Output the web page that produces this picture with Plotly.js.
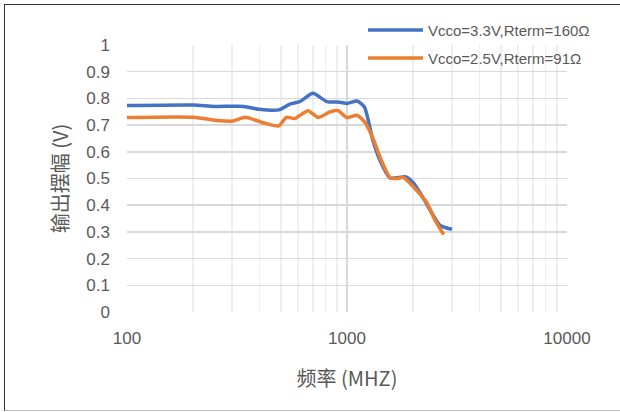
<!DOCTYPE html>
<html>
<head>
<meta charset="utf-8">
<script src="https://cdn.plot.ly/plotly-3.0.1.min.js"></script>
<style>
html,body{margin:0;padding:0;background:#fff;}
#wrap{position:relative;width:620px;height:412px;overflow:hidden;}
#chart{width:620px;height:412px;}
#frame{position:absolute;left:4px;top:4px;width:640px;height:405px;border-top:1.5px solid #333;border-left:1.5px solid #333;border-bottom:1.5px solid #bbb;pointer-events:none;}
</style>
</head>
<body>
<div id="wrap">
<div id="chart"></div>
<div id="frame"></div>
</div>
<script>
// Series names
var seriesNames = ["Vcco=3.3V,Rterm=160Ω", "Vcco=2.5V,Rterm=91Ω"];
var seriesColors = ["#4472C4", "#ED7D31"];

// Series 1: Vcco=3.3V, Rterm=160Ω
var freq1 = [100, 200, 250, 340, 400, 490, 550, 610, 700, 810, 930, 1000, 1110, 1200, 1310, 1410, 1570, 1850, 2000, 2220, 2460, 2650, 3000];
var amp1  = [0.773, 0.775, 0.770, 0.770, 0.759, 0.757, 0.779, 0.788, 0.819, 0.788, 0.786, 0.781, 0.790, 0.768, 0.644, 0.569, 0.502, 0.506, 0.484, 0.427, 0.363, 0.324, 0.310];

// Series 2: Vcco=2.5V, Rterm=91Ω
var freq2 = [100, 200, 265, 303, 345, 415, 490, 530, 580, 665, 740, 840, 910, 1000, 1110, 1200, 1310, 1410, 1570, 1700, 1800, 2000, 2310, 2510, 2750];
var amp2  = [0.728, 0.729, 0.716, 0.715, 0.729, 0.709, 0.697, 0.729, 0.725, 0.754, 0.729, 0.750, 0.754, 0.728, 0.737, 0.713, 0.652, 0.582, 0.503, 0.500, 0.504, 0.469, 0.408, 0.345, 0.290];

// Axis ticks
var xTickVals = [100, 1000, 10000];
var xTickText = ["100", "1000", "10000"];
var xMinorVals = [200, 300, 400, 500, 600, 700, 800, 900, 2000, 3000, 4000, 5000, 6000, 7000, 8000, 9000];
var yTickVals = [0, 0.1, 0.2, 0.3, 0.4, 0.5, 0.6, 0.7, 0.8, 0.9, 1];
var yTickText = ["0", "0.1", "0.2", "0.3", "0.4", "0.5", "0.6", "0.7", "0.8", "0.9", "1"];
var xTitle = "频率 (MHZ)";
var yTitle = "输出摆幅 (V)";

var font = "Liberation Sans, 'Noto Sans CJK SC', sans-serif";
var cjk = "'Noto Sans CJK SC', sans-serif";

var traces = [
  {x: freq1, y: amp1, mode: "lines", name: seriesNames[0],
   line: {color: seriesColors[0], width: 3.5, shape: "spline", smoothing: 0.6}},
  {x: freq2, y: amp2, mode: "lines", name: seriesNames[1],
   line: {color: seriesColors[1], width: 3.5, shape: "spline", smoothing: 0.6}}
];

// manual legend (paper coords relative to plot area)
var L = 127, R = 567, T = 45, B = 312;
function px(x){ return (x - L) / (R - L); }
function py(y){ return (B - y) / (B - T); }
var legRows = [30, 58];
var shapes = [], annotations = [];
for (var i = 0; i < 2; i++) {
  shapes.push({type: "line", xref: "paper", yref: "paper",
    x0: px(368), x1: px(423), y0: py(legRows[i]), y1: py(legRows[i]),
    line: {color: seriesColors[i], width: 3.5}});
  annotations.push({xref: "paper", yref: "paper", x: px(426), y: py(legRows[i]),
    xanchor: "left", yanchor: "middle", showarrow: false, text: seriesNames[i],
    font: {family: font, size: 15, color: "#595959"}});
}

var layout = {
  width: 620, height: 412,
  margin: {l: L, r: 620 - R, t: T, b: 412 - B, pad: 0},
  paper_bgcolor: "#ffffff", plot_bgcolor: "#ffffff",
  showlegend: false,
  font: {family: font, color: "#595959", size: 17},
  xaxis: {
    type: "log", range: [2, 4],
    tickmode: "array", tickvals: xTickVals, ticktext: xTickText,
    showgrid: true, gridcolor: "#d9d9d9", gridwidth: 2,
    minor: {tickmode: "array", tickvals: xMinorVals, showgrid: true, gridcolor: "#eeeeee", gridwidth: 1.5, ticks: ""},
    showline: false, zeroline: false, ticks: "",
    ticklabelstandoff: 14,
    tickfont: {family: font, size: 17, color: "#595959"},
    title: {text: xTitle, font: {family: cjk, size: 20, color: "#595959"}, standoff: 24}
  },
  yaxis: {
    range: [0, 1], tickmode: "array", tickvals: yTickVals, ticktext: yTickText,
    showgrid: true, gridcolor: "#d9d9d9", gridwidth: 1.5,
    showline: false, zeroline: false, ticks: "",
    ticklabelstandoff: 16,
    tickfont: {family: font, size: 17, color: "#595959"},
    title: {text: yTitle, font: {family: cjk, size: 20, color: "#595959"}, standoff: 12}
  },
  shapes: shapes,
  annotations: annotations
};

Plotly.newPlot("chart", traces, layout, {staticPlot: true, displayModeBar: false});
</script>
</body>
</html>
